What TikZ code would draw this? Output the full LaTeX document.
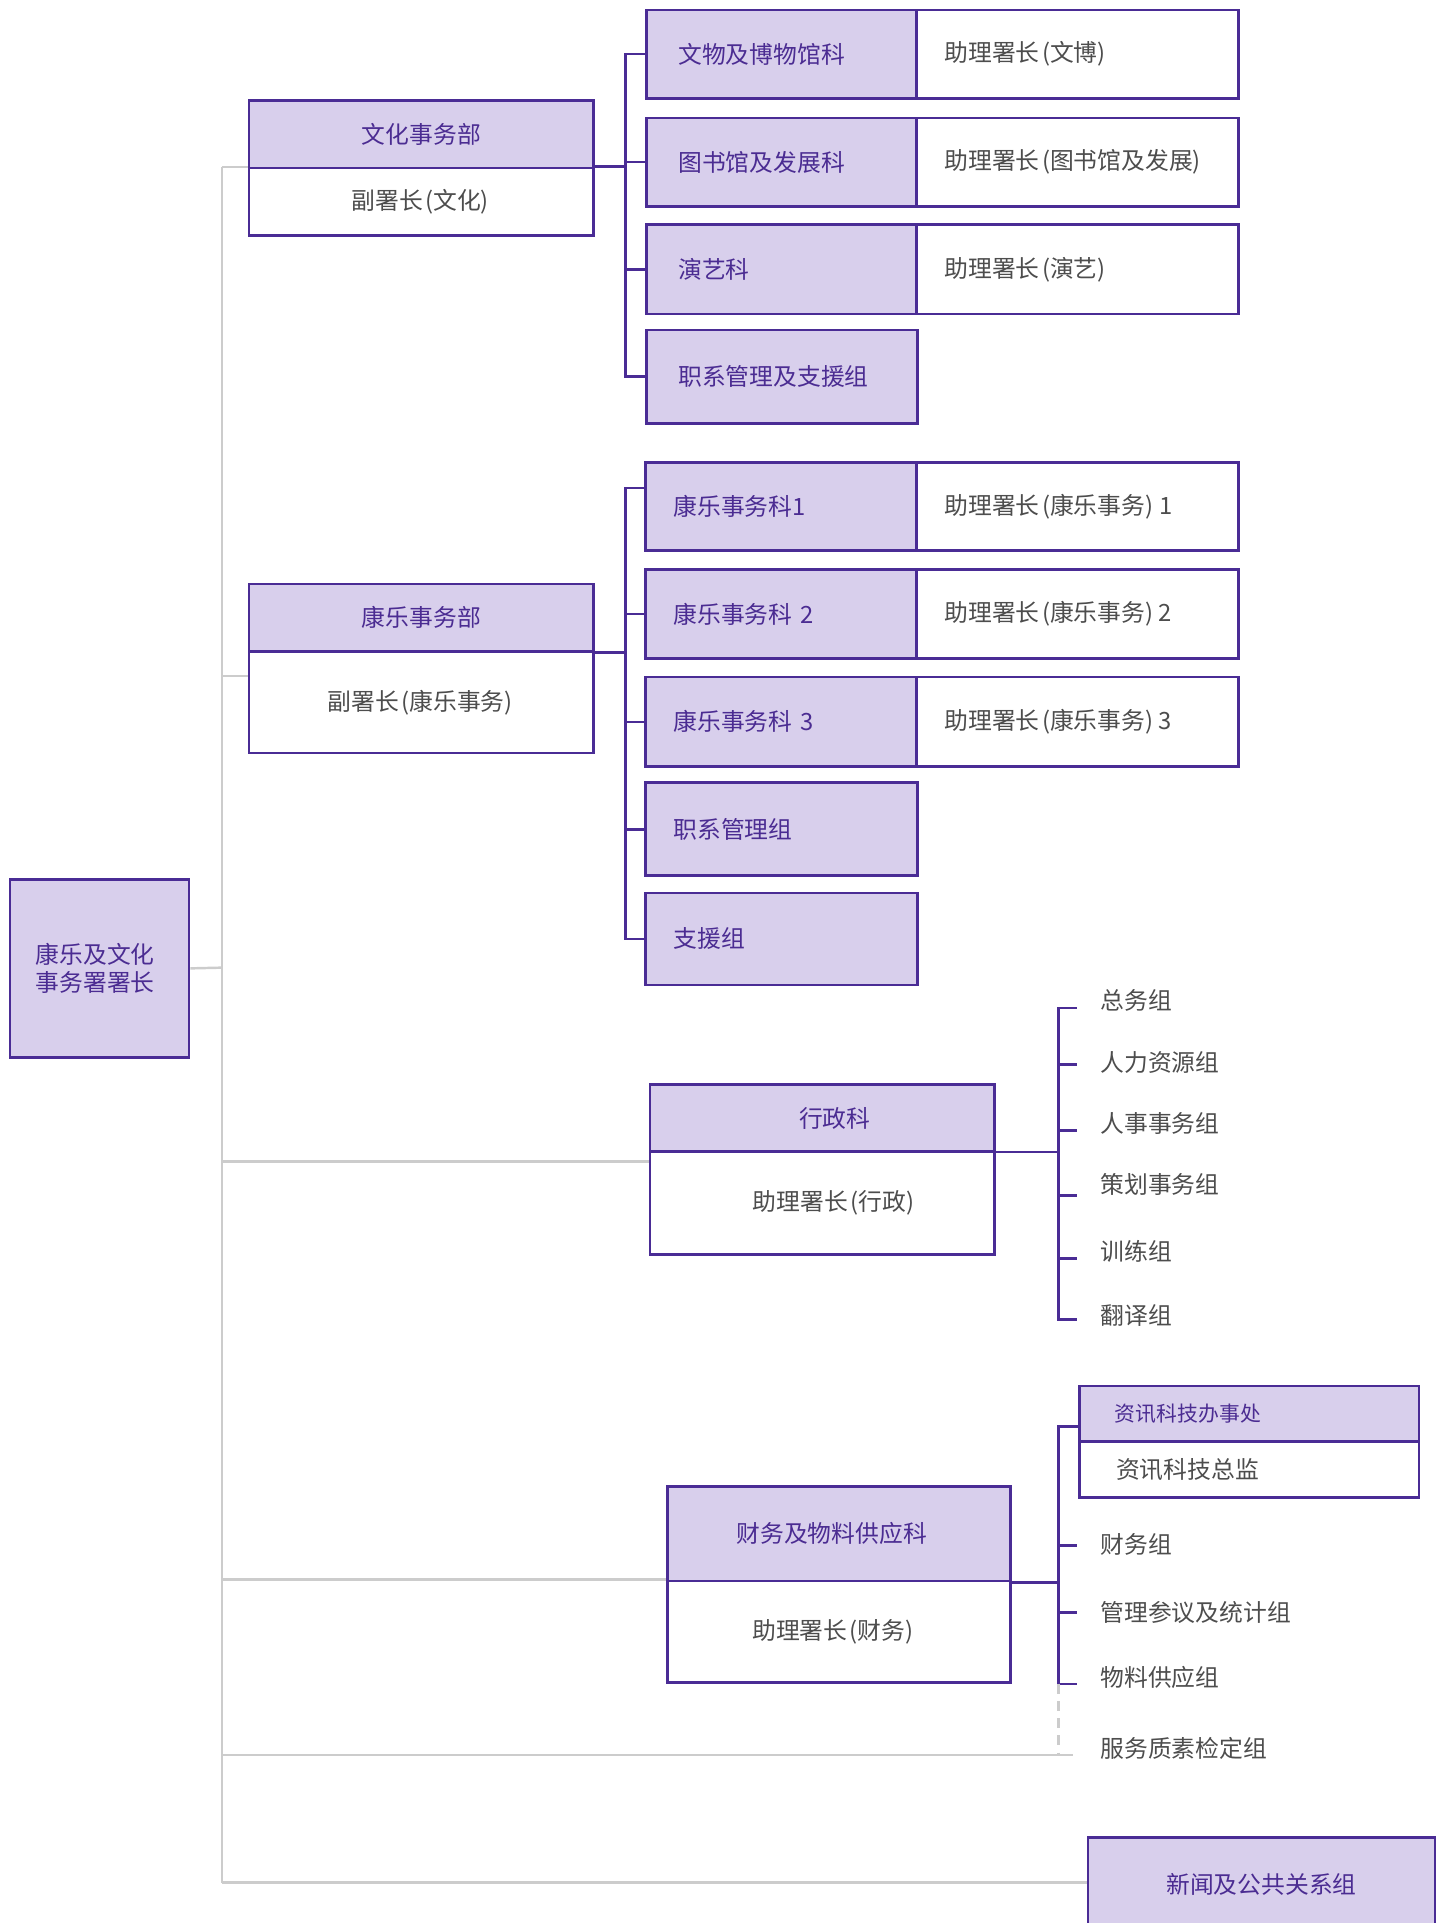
\documentclass[tikz,border=0pt]{standalone}
\usepackage{fontspec}
\setmainfont{Noto Sans CJK SC}
\usetikzlibrary{calc}
\definecolor{pfill}{HTML}{D8CFEC}
\definecolor{pborder}{HTML}{4A2C95}
\definecolor{ptext}{HTML}{4B2C92}
\definecolor{gtext}{HTML}{4D4D4D}
\definecolor{gline}{HTML}{CCCCCC}
\newcommand{\fsz}{\fontsize{9.7}{11.5}\selectfont}
\newcommand{\fsm}{\fontsize{8.5}{10}\selectfont}
\newcommand{\lpar}{\kern1pt(}
\newcommand{\rpar}{)\kern1pt}
\tikzset{
  x=0.5pt, y=-0.5pt,
  basebox/.style={draw=pborder, line width=1.1pt, inner ysep=0pt, anchor=north west, font=\fsz},
  pbox/.style={basebox, fill=pfill, text=ptext},
  wbox/.style={basebox, fill=white, text=gtext},
  pline/.style={draw=pborder, line width=1.1pt},
  gray line/.style={draw=gline, line width=1pt},
  grp/.style={anchor=west, text=gtext, font=\fsz, inner sep=0pt},
}
\begin{document}
\begin{tikzpicture}
\useasboundingbox (0,0) rectangle (1177,1568);

% ---------- grey trunk coordinates ----------
\coordinate (t0) at (181,136);
\coordinate (t1) at (181,551);
\coordinate (t2) at (181,789);
\coordinate (t3) at (181,947);
\coordinate (t4) at (181,1288);
\coordinate (t5) at (181,1431);
\coordinate (t6) at (181,1535);
\coordinate (qaend) at (875,1431);

% ---------- root ----------
\node[pbox, minimum width=73pt, minimum height=72.5pt, inner xsep=10.5pt, text width=52pt, align=left] (root) at (7,716) {康乐及文化\\事务署署长};

% ---------- culture department ----------
\node[pbox, minimum width=140.5pt, minimum height=27.5pt] (culth) at (202,81) {文化事务部};
\node[wbox, minimum width=140.5pt, minimum height=27.5pt] (cultw) at (202,136) {副署长\lpar 文化\rpar};

\node[pbox, minimum height=36pt, inner xsep=13pt, text width=84pt, align=left] (c1) at (526,7) {文物及博物馆科};
\node[wbox, minimum height=36pt, inner xsep=11.5pt, text width=108.5pt, align=left] (c1w) at (746,7) {助理署长\lpar 文博\rpar};
\node[pbox, minimum height=36pt, inner xsep=13pt, text width=84pt, align=left] (c2) at (526,95) {图书馆及发展科};
\node[wbox, minimum height=36pt, inner xsep=11.5pt, text width=108.5pt, align=left] (c2w) at (746,95) {助理署长\lpar 图书馆及发展\rpar};
\node[pbox, minimum height=36.5pt, inner xsep=13pt, text width=84pt, align=left] (c3) at (526,182) {演艺科};
\node[wbox, minimum height=36.5pt, inner xsep=11.5pt, text width=108.5pt, align=left] (c3w) at (746,182) {助理署长\lpar 演艺\rpar};
\node[pbox, minimum height=38pt, inner xsep=13pt, text width=84.5pt, align=left] (c4) at (526,268) {职系管理及支援组};

% ---------- recreation department ----------
\node[pbox, minimum width=140.5pt, minimum height=27.5pt] (rech) at (202,475) {康乐事务部};
\node[wbox, minimum width=140.5pt, minimum height=41.5pt] (recw) at (202,530) {副署长\lpar 康乐事务\rpar};

\node[pbox, minimum height=36pt, inner xsep=11.5pt, text width=87.5pt, align=left] (r1) at (525,376) {康乐事务科1};
\node[wbox, minimum height=36pt, inner xsep=11.5pt, text width=108.5pt, align=left] (r1w) at (746,376) {助理署长\lpar 康乐事务\rpar\kern1.5pt 1};
\node[pbox, minimum height=36.5pt, inner xsep=11.5pt, text width=87.5pt, align=left] (r2) at (525,463) {康乐事务科 2};
\node[wbox, minimum height=36.5pt, inner xsep=11.5pt, text width=108.5pt, align=left] (r2w) at (746,463) {助理署长\lpar 康乐事务\rpar\kern1pt 2};
\node[pbox, minimum height=36.5pt, inner xsep=11.5pt, text width=87.5pt, align=left] (r3) at (525,551) {康乐事务科 3};
\node[wbox, minimum height=36.5pt, inner xsep=11.5pt, text width=108.5pt, align=left] (r3w) at (746,551) {助理署长\lpar 康乐事务\rpar\kern1pt 3};
\node[pbox, minimum height=38pt, inner xsep=11.5pt, text width=88pt, align=left] (r4) at (525,637) {职系管理组};
\node[pbox, minimum height=37.5pt, inner xsep=11.5pt, text width=88pt, align=left] (r5) at (525,727) {支援组};

% ---------- administration ----------
\node[pbox, minimum width=140.5pt, minimum height=27.5pt] (admh) at (529,883) {\hspace*{10pt}行政科};
\node[wbox, minimum width=140.5pt, minimum height=42pt] (admw) at (529,938) {\hspace*{10pt}助理署长\lpar 行政\rpar};

\node[grp] (g1) at (897,816) {总务组};
\node[grp] (g2) at (897,866) {人力资源组};
\node[grp] (g3) at (897,916) {人事事务组};
\node[grp] (g4) at (897,966) {策划事务组};
\node[grp] (g5) at (897,1020) {训练组};
\node[grp] (g6) at (897,1073) {翻译组};

% ---------- finance ----------
\node[pbox, minimum width=140pt, minimum height=38.5pt] (finh) at (543,1211) {\hspace*{-6pt}财务及物料供应科};
\node[wbox, minimum width=140pt, minimum height=41.5pt] (finw) at (543,1288) {\hspace*{-4pt}助理署长\lpar 财务\rpar};

\node[pbox, minimum height=22.5pt, inner xsep=14.5pt, text width=109.5pt, align=left, font=\fsm] (ith) at (879,1129) {资讯科技办事处};
\node[wbox, minimum height=23pt, inner xsep=15pt, text width=108.5pt, align=left] (itw) at (879,1174) {资讯科技总监};

\node[grp] (f1) at (897,1259) {财务组};
\node[grp] (f2) at (897,1315) {管理参议及统计组};
\node[grp] (f3) at (897,1368) {物料供应组};
\node[grp] (f4) at (897,1426) {服务质素检定组};

% ---------- press ----------
\node[pbox, minimum width=141.5pt, minimum height=38.5pt] (news) at (886,1497) {新闻及公共关系组};

% ---------- grey connectors ----------
\draw[gray line] (t0) -- (t6);
\draw[gray line] (root.east) -- (t2);
\draw[gray line] (t0) -- (cultw.north west);
\draw[gray line] (t1) -- (t1 -| recw.west);
\draw[gray line] (t3) -- (t3 -| admw.west);
\draw[gray line] (t4) -- (finw.north west);
\draw[gray line] (t5) -- (qaend);
\draw[gray line] (t6) -- (t6 -| news.west);

% ---------- culture bracket ----------
\coordinate (cb) at (510,0);
\draw[pline] (cultw.north east) -- (cultw.north east -| cb);
\draw[pline] (c1.west) -- (c1.west -| cb) -- (c4.west -| cb) -- (c4.west);
\draw[pline] (c2.west -| cb) -- (c2.west);
\draw[pline] (c3.west -| cb) -- (c3.west);

% ---------- recreation bracket ----------
\coordinate (rb) at (510,0);
\coordinate (r1t) at ($(r1.north west)+(0,22)$);
\draw[pline] ($(recw.north east)+(0,2)$) -- ($(recw.north east -| rb)+(0,2)$);
\draw[pline] (r1t) -- (r1t -| rb) -- (r5.west -| rb) -- (r5.west);
\draw[pline] (r2.west -| rb) -- (r2.west);
\draw[pline] (r3.west -| rb) -- (r3.west);
\draw[pline] (r4.west -| rb) -- (r4.west);

% ---------- administration bracket ----------
\coordinate (ab) at (863,0);
\coordinate (a1) at (878,822);
\coordinate (a2) at (878,868);
\coordinate (a3) at (878,922);
\coordinate (a4) at (878,975);
\coordinate (a5) at (878,1026);
\coordinate (a6) at (878,1076);
\draw[pline] ($(admh.south east)+(0,-1)$) -- ($(admh.south east -| ab)+(0,-1)$);
\draw[pline] (a1) -- (a1 -| ab) -- (a6 -| ab) -- (a6);
\draw[pline] (a2 -| ab) -- (a2);
\draw[pline] (a3 -| ab) -- (a3);
\draw[pline] (a4 -| ab) -- (a4);
\draw[pline] (a5 -| ab) -- (a5);

% ---------- finance bracket ----------
\coordinate (fb) at (863,0);
\coordinate (itt) at ($(ith.south west)+(0,-13)$);
\coordinate (b1) at (878,1260);
\coordinate (b2) at (878,1315);
\coordinate (b3) at (878,1373);
\draw[pline] (finh.south east) -- (finh.south east -| fb);
\draw[pline] (itt) -- (itt -| fb) -- (b3 -| fb) -- (b3);
\draw[pline] (b1 -| fb) -- (b1);
\draw[pline] (b2 -| fb) -- (b2);
\draw[gray line, dash pattern=on 4pt off 3pt] (b3 -| fb) -- (qaend -| fb);
\end{tikzpicture}
\end{document}
